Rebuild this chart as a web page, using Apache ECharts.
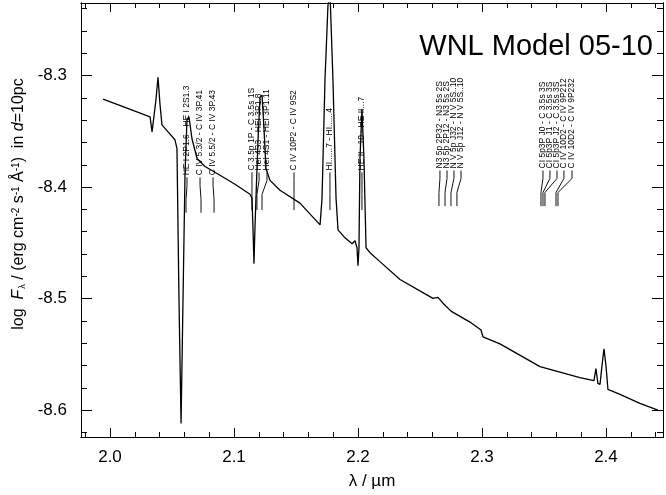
<!DOCTYPE html>
<html>
<head>
<meta charset="utf-8">
<script src="https://cdn.jsdelivr.net/npm/echarts@6/dist/echarts.min.js"></script>
<style>
html,body{margin:0;padding:0;background:#fff;}
#chart{width:666px;height:495px;}
</style>
</head>
<body>
<div id="chart"></div>
<script>
// ---- spectrum data (wavelength in micron, log flux) ----
const wavelength = [
  1.9944, 2.0121, 2.0323, 2.0331, 2.0339, 2.0351, 2.0371, 2.0387, 2.0403, 2.0419,
  2.0468, 2.0524, 2.0540, 2.0556, 2.0573, 2.0589, 2.0605, 2.0621, 2.0637, 2.0661,
  2.0702, 2.0766, 2.0863, 2.1008, 2.1129, 2.1145, 2.1153, 2.1161, 2.1169, 2.1177,
  2.1194, 2.1210, 2.1226, 2.1242, 2.1258, 2.1290, 2.1371, 2.1532, 2.1694, 2.1710,
  2.1734, 2.1758, 2.1774, 2.1798, 2.1823, 2.1839, 2.1895, 2.1952, 2.1976, 2.1992,
  2.2000, 2.2008, 2.2016, 2.2032, 2.2048, 2.2065, 2.2097, 2.2177, 2.2339, 2.2605,
  2.2645, 2.2694, 2.2750, 2.2903, 2.2992, 2.3008, 2.3145, 2.3468, 2.3790, 2.3903,
  2.3919, 2.3935, 2.3952, 2.3968, 2.3984, 2.4000, 2.4016, 2.4113, 2.4274, 2.4419
];
const logFlux = [
  -8.3211, -8.3285, -8.3371, -8.3380, -8.3505, -8.3398, -8.3211, -8.3016, -8.3256, -8.3442,
  -8.3505, -8.3576, -8.3655, -8.4988, -8.6120, -8.4988, -8.3878, -8.3389, -8.3371, -8.3567,
  -8.3744, -8.3815, -8.3878, -8.3975, -8.4064, -8.4100, -8.4366, -8.4686, -8.4366, -8.4100,
  -8.3567, -8.3194, -8.3176, -8.3478, -8.3833, -8.3940, -8.4029, -8.4144, -8.4339, -8.4100,
  -8.3034, -8.2368, -8.2250, -8.3034, -8.4100, -8.4384, -8.4455, -8.4508, -8.4481, -8.4544,
  -8.4704, -8.4544, -8.3744, -8.3300, -8.3744, -8.4544, -8.4588, -8.4668, -8.4828, -8.4997,
  -8.4988, -8.5050, -8.5112, -8.5210, -8.5281, -8.5343, -8.5405, -8.5609, -8.5707, -8.5734,
  -8.5627, -8.5760, -8.5769, -8.5600, -8.5449, -8.5600, -8.5814, -8.5858, -8.5938, -8.6000
];

// ---- line identification labels ----
const lineLabels = [
  'HE I 2P1.6 - HE I 2S1.3', 'C IV 5.3/2 - C IV 3P.41', 'C IV 5.5/2 - C IV 3P.43',
  'C 3.5p 1P - C 3.5s 1S', 'HeI 4S3 - HEI 3P1.8', 'HeI 4S1 - HEI 3P1.11',
  'C IV 10P2 - C IV 9S2', 'HI......7 - HI......4', 'HE II...10 - HE II...7',
  'N3 5p 2P32 - N3 5s 2S', 'N3 5p 2P12 - N3 5s 2S', 'N V 5p J32 - N V 5S..10', 'N V 5p J12 - N V 5S..10',
  'CI 5p3P J0 - C 3.5s 3S', 'CI 5p3P J1 - C 3.5s 3S', 'CI 5p3P J2 - C 3.5s 3S',
  'C IV 10D2 - C IV 9P212', 'C IV 10D2 - C IV 9P232'
];
const labelTextLambda = [
  2.0621, 2.0726, 2.0831,
  2.1145, 2.1202, 2.1266,
  2.1484, 2.1774, 2.2032,
  2.2661, 2.2718, 2.2774, 2.2831,
  2.3492, 2.3548, 2.3605, 2.3661, 2.3726
];
const labelLineLambda = [
  2.0613, 2.0734, 2.0839,
  2.1145, 2.1185, 2.1226,
  2.1484, 2.1774, 2.2032,
  2.2653, 2.2702, 2.2750, 2.2798,
  2.3476, 2.3492, 2.3508, 2.3597, 2.3613
];
const labelBaseFlux = [
  -8.3895, -8.3895, -8.3895,
  -8.3851, -8.3851, -8.3851,
  -8.3851, -8.3851, -8.3851,
  -8.3833, -8.3833, -8.3833, -8.3833,
  -8.3833, -8.3833, -8.3833, -8.3833, -8.3833
];
const labelEndFlux = [
  -8.4230, -8.4230, -8.4230,
  -8.4206, -8.4206, -8.4206,
  -8.4206, -8.4206, -8.4206,
  -8.4171, -8.4171, -8.4171, -8.4171,
  -8.4171, -8.4171, -8.4171, -8.4171, -8.4171
];

// ---- axes ----
const xMajorTicks = [2.0, 2.1, 2.2, 2.3, 2.4];
const xMinorTicks = [1.98, 2.02, 2.04, 2.06, 2.08, 2.12, 2.14, 2.16, 2.18, 2.22, 2.24, 2.26, 2.28, 2.32, 2.34, 2.36, 2.38, 2.42, 2.44];
const yMajorTicks = [-8.3, -8.4, -8.5, -8.6];
const yMinorTicks = [-8.24, -8.26, -8.28, -8.32, -8.34, -8.36, -8.38, -8.42, -8.44, -8.46, -8.48, -8.52, -8.54, -8.56, -8.58, -8.62];
const xRange = [1.9766, 2.446];
const yRange = [-8.624, -8.235];
const titleText = 'WNL Model 05-10';

const FONT = 'Liberation Sans, Arial, sans-serif';
const chart = echarts.init(document.getElementById('chart'), null, {renderer: 'canvas'});

function xAxisDef(pos, ticks, len, showLabel, showName) {
  return {
    type: 'value', position: pos, min: xRange[0], max: xRange[1],
    axisLine: {show: true, onZero: false, lineStyle: {color: '#000', width: 1}},
    axisTick: {show: true, inside: true, length: len, customValues: ticks, lineStyle: {color: '#000', width: 1}},
    axisLabel: showLabel ? {show: true, customValues: xMajorTicks, margin: 12, color: '#000', fontSize: 17, fontFamily: FONT,
      formatter: v => v.toFixed(1)} : {show: false},
    splitLine: {show: false},
    name: showName ? 'λ / µm' : '', nameLocation: 'middle', nameGap: 36,
    nameTextStyle: {color: '#000', fontSize: 17, fontFamily: FONT}
  };
}
function yAxisDef(pos, ticks, len, showLabel, showName) {
  return {
    type: 'value', position: pos, min: yRange[0], max: yRange[1],
    axisLine: {show: true, onZero: false, lineStyle: {color: '#000', width: 1}},
    axisTick: {show: true, inside: true, length: len, customValues: ticks, lineStyle: {color: '#000', width: 1}},
    axisLabel: showLabel ? {show: true, customValues: yMajorTicks, margin: 14, color: '#000', fontSize: 17, fontFamily: FONT,
      formatter: v => v.toFixed(1)} : {show: false},
    splitLine: {show: false},
    name: showName ? 'log  {i|F}{sub|λ} / (erg cm{sup|-2} s{sup|-1} Å{sup|-1})  in {i|d}=10pc' : '',
    nameLocation: 'middle', nameGap: 47, nameRotate: 90,
    nameTextStyle: {color: '#000', fontSize: 16, fontFamily: FONT, padding: [0, 0, 0, 32],
      rich: {
        i: {fontStyle: 'italic', fontSize: 16, fontFamily: FONT, color: '#000'},
        sub: {fontSize: 9, fontFamily: FONT, color: '#000', verticalAlign: 'bottom', padding: [0, 0, 0, 1]},
        sup: {fontSize: 10, fontFamily: FONT, color: '#000', verticalAlign: 'top'}
      }}
  };
}

function renderLabel(params, api) {
  const i = params.dataIndex;
  const pt = api.coord([api.value(0), api.value(2)]);
  const pe = api.coord([api.value(1), api.value(3)]);
  const y0 = pt[1] + 2;
  const yb1 = Math.min(y0 + 8, pe[1]);
  const yb2 = Math.min(y0 + 22, pe[1]);
  return {
    type: 'group',
    children: [
      {type: 'polyline', shape: {points: [[pt[0], y0], [pt[0], yb1], [pe[0], yb2], [pe[0], pe[1]]]},
        style: {stroke: '#111', lineWidth: 1, fill: null}},
      {type: 'text', x: pt[0], y: pt[1], rotation: Math.PI / 2,
        style: {text: lineLabels[i], x: 0, y: 0, align: 'left', verticalAlign: 'middle',
          fontSize: 8.5, fontFamily: 'Liberation Sans Narrow, Liberation Sans, sans-serif', fill: '#000'}}
    ]
  };
}

const option = {
  animation: false,
  backgroundColor: '#fff',
  title: {text: titleText, right: 13, top: 32, padding: 0,
    textStyle: {color: '#000', fontSize: 29, fontWeight: 'normal', fontFamily: FONT}},
  grid: {left: 81, right: 3, top: 3, bottom: 54, containLabel: false},
  xAxis: [
    xAxisDef('bottom', xMajorTicks, 9, true, true),
    xAxisDef('bottom', xMinorTicks, 5, false, false),
    xAxisDef('top', xMajorTicks, 9, false, false),
    xAxisDef('top', xMinorTicks, 5, false, false)
  ],
  yAxis: [
    yAxisDef('left', yMajorTicks, 11, true, true),
    yAxisDef('left', yMinorTicks, 6, false, false),
    yAxisDef('right', yMajorTicks, 11, false, false),
    yAxisDef('right', yMinorTicks, 6, false, false)
  ],
  series: [
    {
      type: 'line', xAxisIndex: 0, yAxisIndex: 0, showSymbol: false, symbol: 'none',
      clip: true, smooth: false,
      lineStyle: {color: '#000', width: 1.3},
      data: wavelength.map((w, i) => [w, logFlux[i]])
    },
    {
      type: 'custom', xAxisIndex: 0, yAxisIndex: 0, renderItem: renderLabel,
      encode: {x: [0, 1], y: [2, 3]},
      data: lineLabels.map((t, i) => [labelTextLambda[i], labelLineLambda[i], labelBaseFlux[i], labelEndFlux[i]])
    }
  ]
};
chart.setOption(option);
</script>
</body>
</html>
